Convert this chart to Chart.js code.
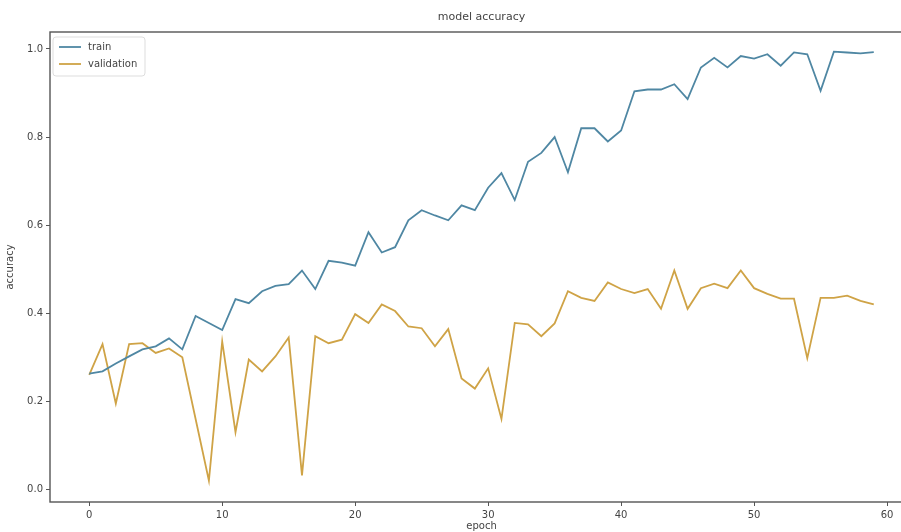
<!DOCTYPE html>
<html>
<head>
<meta charset="utf-8">
<script src="https://cdn.jsdelivr.net/npm/chart.js@4"></script>
<style>
  html, body { margin: 0; padding: 0; background: #fff; overflow: hidden; }
  #wrap { width: 915px; height: 532px; position: relative; }
</style>
</head>
<body>
<div id="wrap"><canvas id="graphacc"></canvas></div>
<script>
// ---------- dados
var epochs = [];
for (var i = 0; i < 60; i++) epochs.push(i);

var train = [0.263, 0.268, 0.286, 0.302, 0.318, 0.325, 0.343, 0.318, 0.394, 0.378,
  0.362, 0.432, 0.423, 0.450, 0.462, 0.466, 0.497, 0.455, 0.519, 0.515,
  0.508, 0.584, 0.538, 0.550, 0.611, 0.634, 0.622, 0.611, 0.645, 0.634,
  0.685, 0.718, 0.657, 0.744, 0.764, 0.800, 0.720, 0.820, 0.820, 0.790,
  0.815, 0.904, 0.908, 0.908, 0.920, 0.886, 0.958, 0.980, 0.958, 0.984,
  0.978, 0.988, 0.962, 0.992, 0.988, 0.905, 0.994, 0.992, 0.990, 0.993];

var validation = [0.260, 0.330, 0.195, 0.330, 0.332, 0.310, 0.320, 0.300, 0.160, 0.020,
  0.336, 0.130, 0.295, 0.268, 0.302, 0.345, 0.032, 0.348, 0.332, 0.340,
  0.398, 0.378, 0.420, 0.405, 0.370, 0.366, 0.325, 0.364, 0.252, 0.229,
  0.275, 0.160, 0.378, 0.375, 0.348, 0.377, 0.450, 0.435, 0.428, 0.470,
  0.455, 0.446, 0.455, 0.410, 0.497, 0.410, 0.457, 0.467, 0.457, 0.497,
  0.457, 0.444, 0.433, 0.433, 0.298, 0.435, 0.435, 0.440, 0.428, 0.420];

var xTicks = [0, 10, 20, 30, 40, 50, 60];
var yTicks = [0.0, 0.2, 0.4, 0.6, 0.8, 1.0];

var seriesNames = ['train', 'validation'];
var seriesColors = ['#4f87a3', '#cfa346'];

var FONT = 'DejaVu Sans';
var TXT = '#444';

// ---------- moldura + legenda + título (estilo matplotlib)
var mplPlugin = {
  id: 'mpl',
  afterDraw: function (chart) {
    var ctx = chart.ctx;
    var a = chart.chartArea;
    ctx.save();
    // moldura
    ctx.strokeStyle = '#555';
    ctx.lineWidth = 1.4;
    ctx.strokeRect(a.left, a.top, a.right - a.left, a.bottom - a.top);

    // título
    ctx.fillStyle = TXT;
    ctx.font = '11px "' + FONT + '"';
    ctx.textAlign = 'center';
    ctx.textBaseline = 'middle';
    ctx.fillText('model accuracy', (a.left + a.right) / 2, 17);

    // legenda
    var bx = a.left + 3, by = a.top + 5, bw = 92, bh = 39;
    ctx.strokeStyle = '#ddd';
    ctx.lineWidth = 1;
    ctx.fillStyle = 'rgba(255,255,255,0.85)';
    ctx.beginPath();
    ctx.roundRect(bx, by, bw, bh, 3);
    ctx.fill();
    ctx.stroke();
    ctx.font = '10px "' + FONT + '"';
    ctx.textAlign = 'left';
    for (var k = 0; k < seriesNames.length; k++) {
      var ly = by + 10 + k * 17;
      ctx.strokeStyle = seriesColors[k];
      ctx.lineWidth = 1.8;
      ctx.beginPath();
      ctx.moveTo(bx + 6, ly);
      ctx.lineTo(bx + 28, ly);
      ctx.stroke();
      ctx.fillStyle = TXT;
      ctx.fillText(seriesNames[k], bx + 35, ly);
    }
    ctx.restore();
  }
};

var ds = [
  { label: seriesNames[0], data: train, borderColor: seriesColors[0] },
  { label: seriesNames[1], data: validation, borderColor: seriesColors[1] }
].map(function (d) {
  d.data = d.data.map(function (v, idx) { return { x: epochs[idx], y: v }; });
  d.borderWidth = 1.8;
  d.pointRadius = 0;
  d.tension = 0;
  d.fill = false;
  return d;
});

var myChart = new Chart(document.getElementById('graphacc'), {
  type: 'line',
  data: { datasets: ds },
  plugins: [mplPlugin],
  options: {
    responsive: true,
    maintainAspectRatio: false,
    animation: false,
    layout: { padding: { top: 32, left: 0, right: 2, bottom: 0 } },
    plugins: {
      legend: { display: false },
      tooltip: { enabled: false }
    },
    scales: {
      x: {
        type: 'linear',
        min: -2.95,
        max: 61.95,
        afterBuildTicks: function (s) { s.ticks = xTicks.map(function (v) { return { value: v }; }); },
        afterFit: function (s) { s.height = 30; },
        grid: { display: true, drawOnChartArea: false, drawTicks: true, tickLength: 4, color: '#555' },
        border: { display: false },
        ticks: { color: TXT, font: { family: FONT, size: 10 }, padding: 3, maxRotation: 0 },
        title: { display: true, text: 'epoch', color: TXT, font: { family: FONT, size: 10 }, padding: { top: 0, bottom: 0 } }
      },
      y: {
        min: -0.0285,
        max: 1.0385,
        afterBuildTicks: function (s) { s.ticks = yTicks.map(function (v) { return { value: v }; }); },
        afterFit: function (s) { s.width = 50; },
        grid: { display: true, drawOnChartArea: false, drawTicks: true, tickLength: 4, color: '#555' },
        border: { display: false },
        ticks: {
          color: TXT,
          font: { family: FONT, size: 10 },
          padding: 3,
          callback: function (v) { return v.toFixed(1); }
        },
        title: { display: true, text: 'accuracy', color: TXT, font: { family: FONT, size: 10 }, padding: { top: 4, bottom: 0 } }
      }
    }
  }
});
</script>
</body>
</html>
